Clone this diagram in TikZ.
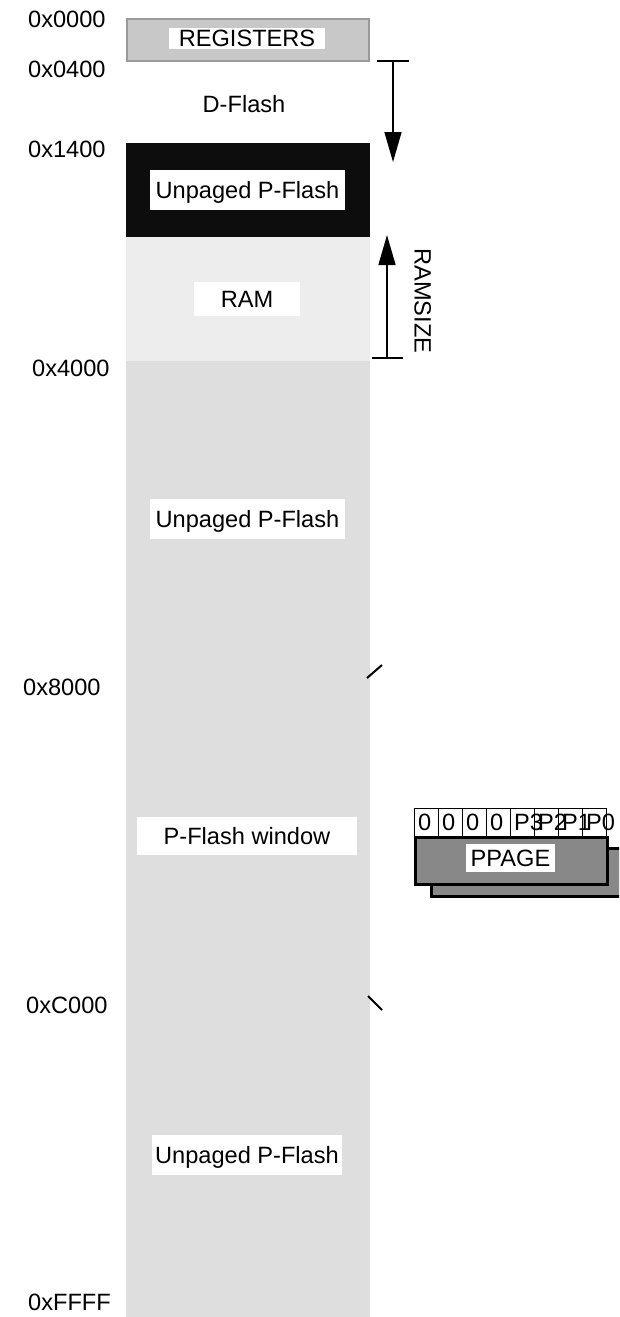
\documentclass[tikz,border=0pt]{standalone}
\usepackage{fontspec}
\setmainfont{Liberation Sans}
\usetikzlibrary{arrows.meta}
\definecolor{regfill}{HTML}{C8C8C8}
\definecolor{regedge}{HTML}{999999}
\definecolor{ramfill}{HTML}{EDEDED}
\definecolor{memfill}{HTML}{DEDEDE}
\definecolor{ppfill}{HTML}{888888}
\definecolor{blk}{HTML}{0D0D0D}
\begin{document}
\begin{tikzpicture}[x=1pt,y=-1pt,
  every node/.style={font=\fontsize{23.6}{27}\selectfont},
  region/.style={anchor=north west, inner sep=0pt, minimum width=244pt},
  lbl/.style={fill=white, inner sep=0pt, text height=16.8pt, text depth=0pt},
  addr/.style={anchor=west, inner sep=0pt, text height=16.8pt, text depth=0pt},
  dimline/.style={line width=1.5pt},
  dimarrow/.style={line width=1.5pt, -{Triangle[length=30pt,width=17pt]}},
  tick/.style={line width=2pt},
  bitcell/.style={draw=black, line width=1.2pt, fill=white, anchor=north west, minimum width=24pt, minimum height=28pt, inner sep=0pt},
  bittext/.style={anchor=west, inner sep=0pt, text height=16.8pt, text depth=0pt},
  ppbox/.style={draw=black, line width=2.5pt, fill=ppfill, anchor=north west, inner sep=0pt}
]
\clip (0,0) rectangle (619,1317);
\useasboundingbox (0,0) rectangle (619,1317);

% memory regions
\node[region, minimum width=242pt, minimum height=42pt, fill=regfill, draw=regedge, line width=2pt] (reg) at (126,18) {};
\node[region, minimum height=94pt, fill=blk] (unp1) at (126,143) {};
\node[region, minimum height=124pt, fill=ramfill] (ram) at (126,237) {};
\node[region, minimum height=960pt, fill=memfill] (low) at (126,361) {};

% labels
\node[lbl, minimum width=156pt, minimum height=21pt] (regl) at (247,38.5) {REGISTERS};
\node[inner sep=0pt, text height=16.8pt, text depth=0pt] (dfl) at (244,104) {D-Flash};
\node[lbl, minimum width=195pt, minimum height=40pt] (unp1l) at (247.5,190) {Unpaged P-Flash};
\node[lbl, minimum width=106pt, minimum height=34pt] (raml) at (247,299) {RAM};
\node[lbl, minimum width=195pt, minimum height=40pt] (unp2l) at (247.5,519) {Unpaged P-Flash};
\node[lbl, minimum width=220pt, minimum height=38pt] (pfwl) at (247,836) {P-Flash window};
\node[lbl, minimum width=190pt, minimum height=40pt] (unp3l) at (247,1155) {Unpaged P-Flash};

% addresses
\node[addr] (a0000) at (28,19) {0x0000};
\node[addr] (a0400) at (28,69) {0x0400};
\node[addr] (a1400) at (28,149) {0x1400};
\node[addr] (a4000) at (32,368) {0x4000};
\node[addr] (a8000) at (23,687) {0x8000};
\node[addr] (aC000) at (26,1005) {0xC000};
\node[addr] (aFFFF) at (28,1302) {0xFFFF};

% D-Flash arrow
\coordinate (d1l) at (377,61);
\coordinate (d1r) at (409,61);
\coordinate (d1s) at (393,61);
\coordinate (d1e) at (393,162);
\draw[dimline] (d1l) -- (d1r);
\draw[dimarrow] (d1s) -- (d1e);

% RAMSIZE arrow
\coordinate (d2l) at (372,358);
\coordinate (d2r) at (403,358);
\coordinate (d2s) at (387,358);
\coordinate (d2e) at (387,235);
\draw[dimline] (d2l) -- (d2r);
\draw[dimarrow] (d2s) -- (d2e);
\node[rotate=-90, inner sep=0pt, text height=16.8pt, text depth=0pt] (ramsize) at (423,301) {RAMSIZE};

% window ticks
\coordinate (t1a) at (367,678);
\coordinate (t1b) at (382,665);
\coordinate (t2a) at (368,996);
\coordinate (t2b) at (382,1010);
\draw[tick] (t1a) -- (t1b);
\draw[tick] (t2a) -- (t2b);

% PPAGE register
\node[ppbox, minimum width=200pt, minimum height=48pt] (ppback) at (430,847) {};
\node[ppbox, minimum width=192pt, minimum height=47pt] (ppfront) at (414,836) {};
\node[lbl, minimum width=89pt, minimum height=28pt] (ppl) at (510.5,858) {PPAGE};
\foreach \i in {0,...,7}{
  \node[bitcell] (bit\i) at ({414+24*\i},808) {};
}
\foreach \i/\t in {0/0,1/0,2/0,3/0,4/P3,5/P2,6/P1,7/P0}{
  \node[bittext] (bt\i) at ({418+24*\i},822) {\t};
}
\end{tikzpicture}
\end{document}
